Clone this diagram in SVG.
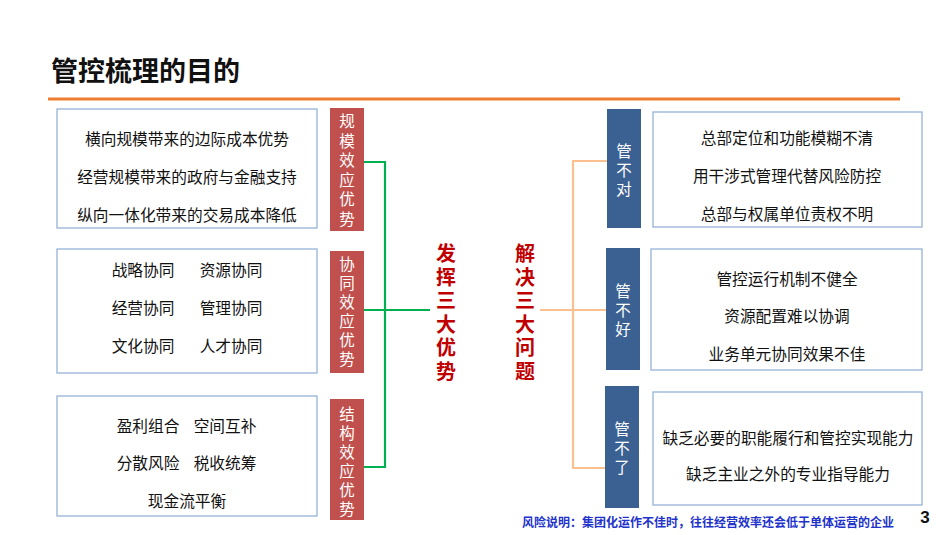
<svg xmlns="http://www.w3.org/2000/svg" width="950" height="535" viewBox="0 0 950 535">
<style>
text{font-family:"Noto Sans CJK SC","Noto Sans",sans-serif;}
.box{fill:#fff;stroke:#95B3D7;stroke-width:1.3;}
.red{fill:#C0504D;}
.blue{fill:#3B6192;}
.t{font-size:15.7px;fill:#111;text-anchor:middle;dominant-baseline:central;}
.lab{font-size:15.5px;fill:#fff;text-anchor:middle;dominant-baseline:central;}
.big{font-size:20px;font-weight:bold;fill:#C00000;text-anchor:middle;dominant-baseline:central;}
.g{stroke:#00B050;stroke-width:2.2;fill:none;}
.o{stroke:#FAC090;stroke-width:2.2;fill:none;}
</style>
<rect width="950" height="535" fill="#fff"/>
<g id="title">
<text x="51" y="69" style="font-size:27px;font-weight:bold;fill:#111;dominant-baseline:central;">管控梳理的目的</text>
<line x1="48" y1="99" x2="900" y2="99" stroke="#ED7D31" stroke-width="3"/>
</g>
<g id="connectors">
<polyline class="g" points="364,162 385,162 385,467 364,467"/>
<line class="g" x1="364" y1="310" x2="430" y2="310"/>
<polyline class="o" points="607,161 573,161 573,468 605,468"/>
<line class="o" x1="540" y1="310" x2="606" y2="310"/>
</g>
<g id="left1">
<rect class="box" x="57" y="109" width="260" height="119"/>
<text class="t" x="187" y="138">横向规模带来的边际成本优势</text>
<text class="t" x="187" y="176">经营规模带来的政府与金融支持</text>
<text class="t" x="187" y="214">纵向一体化带来的交易成本降低</text>
</g>
<g id="left2">
<rect class="box" x="57" y="249" width="260" height="124"/>
<text class="t" x="143" y="269">战略协同</text>
<text class="t" x="231" y="269">资源协同</text>
<text class="t" x="143" y="307">经营协同</text>
<text class="t" x="231" y="307">管理协同</text>
<text class="t" x="143" y="345">文化协同</text>
<text class="t" x="231" y="345">人才协同</text>
</g>
<g id="left3">
<rect class="box" x="57" y="396" width="260" height="120"/>
<text class="t" x="148" y="425">盈利组合</text>
<text class="t" x="225" y="425">空间互补</text>
<text class="t" x="148" y="462">分散风险</text>
<text class="t" x="225" y="462">税收统筹</text>
<text class="t" x="187" y="500">现金流平衡</text>
</g>
<g id="red1">
<rect class="red" x="330" y="108" width="34" height="123"/>
<text class="lab"><tspan x="347" y="120">规</tspan><tspan x="347" y="139.5">模</tspan><tspan x="347" y="159">效</tspan><tspan x="347" y="178.5">应</tspan><tspan x="347" y="198">优</tspan><tspan x="347" y="217.5">势</tspan></text>
</g>
<g id="red2">
<rect class="red" x="330" y="251" width="34" height="122"/>
<text class="lab"><tspan x="347" y="263">协</tspan><tspan x="347" y="282">同</tspan><tspan x="347" y="301">效</tspan><tspan x="347" y="320">应</tspan><tspan x="347" y="339">优</tspan><tspan x="347" y="358">势</tspan></text>
</g>
<g id="red3">
<rect class="red" x="330" y="399" width="34" height="121"/>
<text class="lab"><tspan x="347" y="413">结</tspan><tspan x="347" y="432">构</tspan><tspan x="347" y="451">效</tspan><tspan x="347" y="470">应</tspan><tspan x="347" y="489">优</tspan><tspan x="347" y="508">势</tspan></text>
</g>
<g id="advantages">
<text class="big"><tspan x="446" y="252">发</tspan><tspan x="446" y="275.5">挥</tspan><tspan x="446" y="299">三</tspan><tspan x="446" y="322.5">大</tspan><tspan x="446" y="346">优</tspan><tspan x="446" y="369.5">势</tspan></text>
</g>
<g id="problems">
<text class="big"><tspan x="525" y="252">解</tspan><tspan x="525" y="275.5">决</tspan><tspan x="525" y="299">三</tspan><tspan x="525" y="322.5">大</tspan><tspan x="525" y="346">问</tspan><tspan x="525" y="369.5">题</tspan></text>
</g>
<g id="blue1">
<rect class="blue" x="607" y="109" width="34" height="119"/>
<text class="lab"><tspan x="624" y="150">管</tspan><tspan x="624" y="169">不</tspan><tspan x="624" y="188">对</tspan></text>
</g>
<g id="blue2">
<rect class="blue" x="606" y="248" width="34" height="122"/>
<text class="lab"><tspan x="623" y="290">管</tspan><tspan x="623" y="309">不</tspan><tspan x="623" y="328">好</tspan></text>
</g>
<g id="blue3">
<rect class="blue" x="605" y="386" width="34" height="122"/>
<text class="lab"><tspan x="622" y="428">管</tspan><tspan x="622" y="447">不</tspan><tspan x="622" y="466">了</tspan></text>
</g>
<g id="right1">
<rect class="box" x="653" y="112" width="269" height="115"/>
<text class="t" x="787" y="137">总部定位和功能模糊不清</text>
<text class="t" x="787" y="175">用干涉式管理代替风险防控</text>
<text class="t" x="787" y="213">总部与权属单位责权不明</text>
</g>
<g id="right2">
<rect class="box" x="651" y="249" width="271" height="121"/>
<text class="t" x="787" y="278">管控运行机制不健全</text>
<text class="t" x="787" y="315">资源配置难以协调</text>
<text class="t" x="787" y="353">业务单元协同效果不佳</text>
</g>
<g id="right3">
<rect class="box" x="653" y="392" width="269" height="113"/>
<text class="t" x="788" y="437">缺乏必要的职能履行和管控实现能力</text>
<text class="t" x="788" y="473">缺乏主业之外的专业指导能力</text>
</g>
<g id="footer">
<text x="522" y="521" style="font-size:12px;font-weight:bold;fill:#2233CC;dominant-baseline:central;">风险说明：集团化运作不佳时，往往经营效率还会低于单体运营的企业</text>
<text x="925" y="517" style="font-size:17px;font-weight:bold;fill:#111;text-anchor:middle;dominant-baseline:central;font-family:'Liberation Sans',sans-serif;">3</text>
</g>
</svg>
